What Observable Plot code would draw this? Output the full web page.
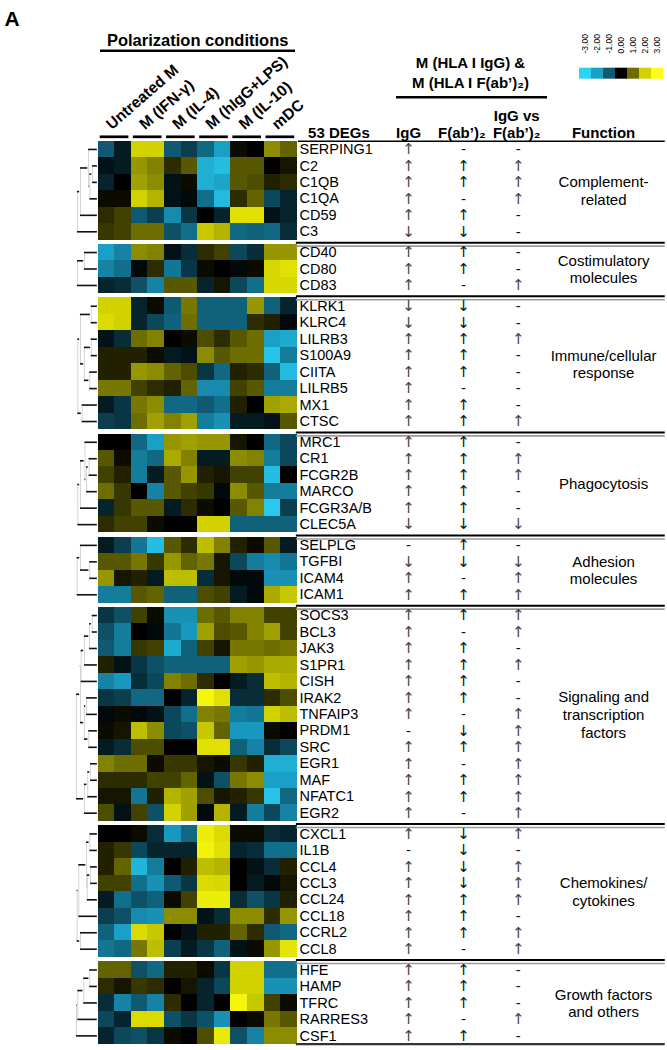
<!DOCTYPE html>
<html><head><meta charset="utf-8">
<script src="https://cdn.jsdelivr.net/npm/d3@7"></script>
<script src="https://cdn.jsdelivr.net/npm/@observablehq/plot@0.6"></script>
<style>
body{margin:0;background:#fff;}
#fig{position:relative;width:667px;height:1050px;}
#fig svg{position:absolute;overflow:visible;}
</style></head><body><div id="fig"></div>
<script>
// ---------------- DATA ----------------
const conditions = ["Untreated M","M (IFN-γ)","M (IL-4)","M (hIgG+LPS)","M (IL-10)","mDC"];
const functionLabels = ["Complement-\nrelated","Costimulatory\nmolecules","Immune/cellular\nresponse","Phagocytosis","Adhesion\nmolecules","Signaling and\ntranscription\nfactors","Chemokines/\ncytokines","Growth factors\nand others"];
const groupSizes = [6,3,8,6,4,13,8,5];
const genes = ["SERPING1","C2","C1QB","C1QA","CD59","C3",
  "CD40","CD80","CD83",
  "KLRK1","KLRC4","LILRB3","S100A9","CIITA","LILRB5","MX1","CTSC",
  "MRC1","CR1","FCGR2B","MARCO","FCGR3A/B","CLEC5A",
  "SELPLG","TGFBI","ICAM4","ICAM1",
  "SOCS3","BCL3","JAK3","S1PR1","CISH","IRAK2","TNFAIP3","PRDM1","SRC","EGR1","MAF","NFATC1","EGR2",
  "CXCL1","IL1B","CCL4","CCL3","CCL24","CCL18","CCRL2","CCL8",
  "HFE","HAMP","TFRC","RARRES3","CSF1"];
// arrows: IgG, F(ab')2, IgG vs F(ab')2
const iggCol = [..."↑↑↑↑↑↓" + "↑↑↑" + "↓↓↑↑↑↑↑↑" + "↑↑↑↑↑↓" + "-↓↑↑" + "↑↑↑↑↑↑↑-↑↑↑↑↑" + "↑-↑↑↑↑↑↑" + "↑↑↑↑↑"];
const fabCol = [..."-↑↑-↑↓" + "↑↑-" + "↓↓↑↑↑-↑↑" + "↑↑↑↑↑↓" + "↑↓-↑" + "↑-↑↑↑↑-↓↑-↑↑-" + "↓↓↓↓↑↑↑-" + "↑↑↑-↑"];
const vsCol = [..."-↑↑↑--" + "--↑" + "--↑----↑" + "-↑↑--↓" + "-↓↑↑" + "↑↑-↑--↑↑↑↑↑↑↑" + "↑-↑↑↑-↑↑" + "---↑-"];

// z-scores, 12 columns (6 conditions x 2 donors)
const complementValues = [
  [-1,-0.3,2,2,-1,-0.7,-1.2,-2,0.1,0,1.3,0.9],
  [-0.2,-0.3,1.4,1.2,0.4,0.8,-2.3,-2.6,0.8,0.8,0,0.2],
  [-0.4,0,1.5,1.3,-0.2,0.1,-2.3,-2.1,0.8,0.7,0.3,0.4],
  [0.1,0.1,2,1.7,-0.2,-0.1,-1.3,-2.5,0.4,0.9,-0.8,-0.4],
  [0.4,0.6,-1,-0.7,-1.7,-0.6,0,-0.4,2.3,2.3,-0.2,-0.4],
  [0.5,0.6,1,1,-0.9,-1.3,1.9,1.7,-1.2,-1.1,-1.2,-0.5]];
const costimValues = [
  [-2,-1.6,1.3,1.2,-0.2,-0.5,0.4,0.6,-0.8,-0.5,1.4,1.4],
  [-1.6,-1.3,-0.1,0.4,-1.4,-0.6,0.1,0,-0.1,0.1,2.1,2.3],
  [-0.4,-0.5,-0.9,-1.6,0.8,0.8,-0.4,0.2,-0.8,-1.3,2.1,2.1]];
const immuneValues = [
  [2,2,-0.4,0.1,-1,1.1,-1.1,-1.1,-1.1,1.4,-1.1,-0.4],
  [2.2,2,-0.4,-0.8,-1.1,1,-1.1,-1.1,-1.1,0.4,0.3,-0.1],
  [-0.2,-0.5,1,1.2,0,0.1,0.7,0.4,0.8,1,-2,-2.2],
  [0.3,0.3,0.3,0.1,-0.3,-0.2,1.3,0.8,1,1,-2.7,-1.5],
  [0.3,0.3,1.4,1.3,0.9,0.7,-0.6,-1.2,0.3,0.4,-1.1,-2.5],
  [1.1,1.1,0.6,0.4,0.3,0.9,-1.7,-1.7,0.6,0.8,-1.5,-1.5],
  [-0.3,-0.6,1.1,1.3,-1.2,-1.2,-1,-1.3,0.3,0,1.5,1.6],
  [-0.7,-0.6,1,1.5,1.2,1.5,-1.5,-1.8,-0.3,-0.3,-0.2,0.8]];
const phagoValues = [
  [0,0,-1.2,-2,1.4,1.5,1.4,1.4,0.2,0,-1.2,-0.8],
  [0.8,0.1,-1.5,-1.2,1.6,1.2,-0.3,-0.3,1.3,1.2,-1.5,-0.8],
  [0.6,0.3,-1.5,-0.3,0.8,1.4,0.3,0.2,0.6,0.6,-2.6,0],
  [1,0.5,0,-1.6,0.8,0.6,0.5,-0.1,1.3,0.8,-1.5,-1.5],
  [-0.4,0.5,0.8,0.8,-0.3,0.4,0.1,0,0.8,1.2,-2.8,-0.7],
  [0.4,0.6,0.6,0.1,0,0,2,2,-1.1,-1.1,-1.1,-1.1]];
const adhesionValues = [
  [-0.3,-0.7,-1.4,-2.6,0.8,0.4,1.8,1.2,0.3,0.1,0.8,-0.3],
  [0.8,0.8,1.1,0.5,1.4,0.9,1.1,0.2,-0.8,-1.5,-1.7,-1.4],
  [1.4,0.2,0.3,-0.3,1.8,1.8,-0.5,0.2,-0.1,-0.1,-1.8,-1.8],
  [-1.5,-1.5,0.8,0.9,-1.1,-1.1,0.7,0.6,-0.3,-0.1,1.6,1.9]];
const signalingValues = [
  [-0.6,-0.9,0.6,0.1,-1.8,-1.8,1,0.8,1.2,1.2,0.6,0.6],
  [-0.9,-1.5,0,-0.1,-1.4,-1.9,1.5,0.7,0.8,1.2,1.5,0.6],
  [-1,-1.5,0.5,0.6,-2.2,-1.1,0.6,0.2,1.1,1.1,1,1.1],
  [0.3,-0.2,-0.6,-0.9,-1.1,-1.1,-1.1,-1.1,1.5,1.4,1.6,1.6],
  [-1.6,-1.9,-0.5,-0.8,1.2,1,0.4,0,-0.3,-0.5,1.8,1.7],
  [-0.6,-0.7,-1.2,-1.2,0,-0.4,2.8,2.3,-0.5,-0.5,0.4,0.7],
  [-0.1,0.1,-0.1,-0.2,-0.8,-1.3,1.2,1.1,-1.5,-1.4,2,1.8],
  [0.1,0.2,1.8,1.3,-0.8,-0.9,1.9,0.9,-1.9,-1.9,0.1,0],
  [-0.3,-0.5,0.7,0.7,0,0,2.3,2.3,-1.1,-1.6,-0.5,-0.8],
  [1.2,1,1,0.1,0.5,0.5,0.2,0.1,0.5,0.3,-2.3,-2.3],
  [0.4,0.4,0.4,0.6,0.6,0.9,-0.2,-0.9,1.1,1.3,-2,-2],
  [0.2,0.2,-1.4,0.3,1.7,1.5,0.7,0.2,0.3,0.5,-2.7,-1.2],
  [0.7,-0.2,0.6,-0.9,2,1.5,-0.1,1.7,-0.3,-1.5,-0.8,-1.6]];
const chemokineValues = [
  [0,0,0.1,-0.5,-1.9,-1.2,2.6,2.2,0.1,0.1,-0.5,-0.4],
  [0.3,0.5,-0.8,-0.4,-0.4,-0.4,2.7,2.3,-0.4,-0.5,-1.3,-1.3],
  [0.3,0.9,-2.4,-1.5,0,0.3,1.8,1.7,0,-0.2,-0.5,0.3],
  [0.6,0.6,-1.3,-1.8,-1,-0.6,2.2,2.1,0,-0.3,-0.1,0.2],
  [-0.3,-1.3,-0.9,-1.1,0.1,0.6,2.6,2.6,-0.5,-0.9,-0.6,0.3],
  [-0.7,-0.9,-1.7,-1.8,1.3,1.3,-0.2,-0.5,1.3,1.3,0.4,1.4],
  [-1.1,-2,2.2,1.9,0,-0.2,0.3,0.3,0.9,0.4,-1,-1.2],
  [-1.4,-1.2,1.1,1.8,-0.7,-0.3,-0.6,-1.1,-0.2,0.1,1.4,2.4]];
const growthValues = [
  [0.9,0.9,-0.9,-1.2,0.3,0.3,0.1,-0.6,2,2,-1.3,-1.3],
  [0.4,0.2,0.5,0.4,0,0.2,-0.4,-0.8,2,2,-1.8,-1.8],
  [-0.5,-1.6,-1,-1.6,0.4,0,-0.4,0,2.8,1.9,0.6,0.1],
  [-0.8,-0.4,2.2,2.2,-0.9,-0.6,-0.9,-1.8,0,0.1,1.1,0.8],
  [-0.4,-0.8,-0.9,-0.6,0.1,0,0.7,2.5,-0.9,-1.6,1.3,1.3]];

// row dendrograms per group: [left, right, mergeHeight]
const dendrograms = [
  [[["SERPING1",[["C2","C1QB",0.34],"C1QA",0.5],0.58],"CD59",1.07],"C3",1.25],
  [["CD40","CD80",0.83],"CD83",1.25],
  [[["KLRK1","KLRC4",0.42],[["LILRB3","S100A9",0.42],["CIITA","LILRB5",0.51],0.83],1.07],["MX1","CTSC",0.97],1.23],
  [[["MRC1",[["CR1","FCGR2B",0.55],"MARCO",0.7],0.8],"FCGR3A/B",1.07],"CLEC5A",1.23],
  [["SELPLG",["TGFBI","ICAM4",0.51],1.07],"ICAM1",1.27],
  [[[[[["SOCS3","BCL3",0.36],"JAK3",0.52],"S1PR1",0.83],"CISH",1.03],[["IRAK2","TNFAIP3",0.7],["PRDM1","SRC",0.57],0.83],1.07],[[["EGR1","MAF",0.46],"NFATC1",0.63],"EGR2",0.83],1.31],
  [[[["CXCL1","IL1B",0.5],[["CCL4","CCL3",0.46],"CCL24",0.66],0.7],"CCL18",1.17],["CCRL2","CCL8",1.07],1.27],
  [[[["HFE","HAMP",0.51],"TFRC",0.87],"RARRES3",1.23],"CSF1",1.31]];

const legendValues = [-3,-2,-1,0,1,2,3];
const legendColors = ["#2dd3f5","#1a9fc6","#0f5a72","#000000","#6e6e00","#d2d200","#ffff10"];

// ---------------- LAYOUT ----------------
const FONT = '"Liberation Sans", Arial, Helvetica, sans-serif';
const GAP = 0.26;                         // gap between gene groups, in rows
const COL = {gene: 12.14, igg: 18.72, fab: 22.03, vs: 25.34, func: 30.48, lineStart: 11.95, lineEnd: 34.2};
const colorScale = {type: "linear", domain: legendValues, range: legendColors, clamp: true};

const heatValues = [complementValues, costimValues, immuneValues, phagoValues, adhesionValues, signalingValues, chemokineValues, growthValues].flat();
const groupStarts = groupSizes.map((s, g) => d3.sum(groupSizes.slice(0, g)));
const rows = genes.map((gene, i) => {
  const g = d3.bisectRight(groupStarts, i) - 1;
  return {gene, i, g, pos: i + g * GAP, igg: iggCol[i], fab: fabCol[i], vs: vsCol[i]};
});
const rowByGene = new Map(rows.map(r => [r.gene, r]));
const groups = groupSizes.map((size, g) => {
  const start = groupStarts[g] + g * GAP;
  return {g, label: functionLabels[g], start, end: start + size, mid: start + size / 2};
});
const total = genes.length + (groupSizes.length - 1) * GAP;

const cells = rows.flatMap(r => heatValues[r.i].map((v, c) => ({c, pos: r.pos, v})));

// dendrogram segments
const hSegs = [], vSegs = [];
function layout(node) {
  if (typeof node === "string") return {y: rowByGene.get(node).pos + 0.5, h: 0};
  const l = layout(node[0]), r = layout(node[1]), h = node[2];
  hSegs.push({y: l.y, a: l.h, b: h}, {y: r.y, a: r.h, b: h});
  vSegs.push({h, y1: l.y, y2: r.y});
  return {y: (l.y + r.y) / 2, h};
}
dendrograms.forEach(layout);

const pairs = conditions.map((name, i) => ({name, i}));
const top0 = () => 0;
// symbol marks: arrows (thin arrow glyph) and dashes
const symbolMarks = (key, fill) => [
  Plot.text(rows, {filter: d => d[key] !== "-", x: () => COL[key], y: d => d.pos + 0.5, text: key,
    lineAnchor: "middle", fontSize: 15, fontFamily: '"DejaVu Sans", sans-serif', fill}),
  Plot.text(rows, {filter: d => d[key] === "-", x: () => COL[key], y: d => d.pos + 0.5, text: key,
    lineAnchor: "middle", fontSize: 15, fill: "#111"})
];

const main = Plot.plot({
  width: 667, height: 1050,
  marginTop: 140.7, marginBottom: 6.4, marginLeft: 0, marginRight: 0,
  x: {type: "linear", domain: [-5.893, 34.335], axis: null},
  y: {type: "linear", domain: [0, total], reverse: true, axis: null},
  color: colorScale,
  style: {fontFamily: FONT, overflow: "visible", background: "transparent"},
  marks: [
    // heatmap
    Plot.rect(cells, {x1: d => d.c, x2: d => d.c + 1, y1: d => d.pos, y2: d => d.pos + 1, fill: "v", inset: 0, shapeRendering: "crispEdges"}),
    // dendrogram
    Plot.ruleX(vSegs, {x: d => -d.h, y1: "y1", y2: "y2", stroke: "#d4d4d4", strokeWidth: 1}),
    Plot.ruleY(hSegs, {y: "y", x1: d => -d.a - 0.05, x2: d => -d.b, stroke: "#111", strokeWidth: 1.6}),
    // condition bars & labels
    Plot.ruleY(pairs, {y: top0, x1: d => 2 * d.i + 0.12, x2: d => 2 * d.i + 1.85, dy: -4.4, stroke: "#000", strokeWidth: 2.7}),
    Plot.text(pairs, {x: d => 2 * d.i + 1, y: top0, text: "name", rotate: -41, textAnchor: "start", lineAnchor: "bottom", dx: -3, dy: -11, fontSize: 15.5, fontWeight: "bold", fill: "#000"}),
    // panel letter and titles
    Plot.text(["A"], {x: () => -5.65, y: top0, textAnchor: "start", lineAnchor: "bottom", dy: -115.7, fontSize: 21, fontWeight: "bold"}),
    Plot.text(["Polarization conditions"], {x: () => 6, y: top0, lineAnchor: "bottom", dy: -95.7, fontSize: 16.5, fontWeight: "bold"}),
    Plot.ruleY([0], {x1: () => 0.14, x2: () => 11.9, dy: -90.5, stroke: "#000", strokeWidth: 2.6}),
    Plot.text(["M (HLA I IgG) &\nM (HLA I F(ab’)₂)"], {x: () => 22.45, y: top0, lineAnchor: "bottom", lineHeight: 1.33, dy: -53.7, fontSize: 15, fontWeight: "bold"}),
    Plot.ruleY([0], {x1: () => 17.99, x2: () => 27.1, dy: -44, stroke: "#000", strokeWidth: 2.6}),
    // table headers
    Plot.text(["53 DEGs"], {x: () => 14.52, y: top0, lineAnchor: "bottom", dy: -3.7, fontSize: 15, fontWeight: "bold"}),
    Plot.text(["IgG"], {x: () => COL.igg, y: top0, lineAnchor: "bottom", dy: -3.7, fontSize: 15, fontWeight: "bold"}),
    Plot.text(["F(ab’)₂"], {x: () => COL.fab - 0.1, y: top0, lineAnchor: "bottom", dy: -3.7, fontSize: 15, fontWeight: "bold"}),
    Plot.text(["IgG vs\nF(ab’)₂"], {x: () => COL.vs - 0.1, y: top0, lineAnchor: "bottom", lineHeight: 1.13, dy: -3.7, fontSize: 15, fontWeight: "bold"}),
    Plot.text(["Function"], {x: () => COL.func, y: top0, lineAnchor: "bottom", dy: -3.7, fontSize: 15, fontWeight: "bold"}),
    // table lines
    Plot.ruleY([0], {x1: () => 12.08, x2: () => COL.lineEnd, stroke: "#000", strokeWidth: 1.5}),
    Plot.ruleY(groups.slice(0, -1), {y: d => d.end + 0.16, x1: () => COL.lineStart, x2: () => COL.lineEnd, stroke: "#000", strokeWidth: 2}),
    Plot.ruleY(groups.slice(0, -1), {y: d => d.end + 0.37, x1: () => COL.lineStart, x2: () => COL.lineEnd, stroke: "#9a9a9a", strokeWidth: 1.6}),
    Plot.ruleY([total], {x1: () => COL.lineStart, x2: () => COL.lineEnd, stroke: "#333", strokeWidth: 2.4}),
    // gene names and arrows
    Plot.text(rows, {x: () => COL.gene, y: d => d.pos + 0.5, text: "gene", textAnchor: "start", lineAnchor: "middle", fontSize: 14.5, fill: "#000"}),
    ...symbolMarks("igg", "#444"),
    ...symbolMarks("fab", "#111"),
    ...symbolMarks("vs", "#444"),
    // function labels
    Plot.text(groups, {x: () => COL.func, y: "mid", text: "label", lineAnchor: "middle", lineHeight: 1.17, fontSize: 15, fill: "#000"})
  ]
});
main.style.left = "0px"; main.style.top = "0px";
document.getElementById("fig").appendChild(main);

// color legend
const legend = Plot.plot({
  width: 90, height: 48, marginTop: 35.7, marginBottom: 1.3, marginLeft: 0, marginRight: 3,
  x: {type: "band", domain: legendValues.map(v => v.toFixed(2)), padding: 0, axis: null},
  color: colorScale,
  style: {fontFamily: FONT, overflow: "visible", background: "transparent"},
  marks: [
    Plot.cell(legendValues, {x: d => d.toFixed(2), fill: d => d, inset: 0}),
    Plot.text(legendValues, {x: d => d.toFixed(2), text: d => d.toFixed(2), frameAnchor: "top", dy: -14.7, rotate: -90, textAnchor: "start", lineAnchor: "middle", fontSize: 8.5, fill: "#000"})
  ]
});
legend.style.left = "577px"; legend.style.top = "32px";
document.getElementById("fig").appendChild(legend);
</script></body></html>
